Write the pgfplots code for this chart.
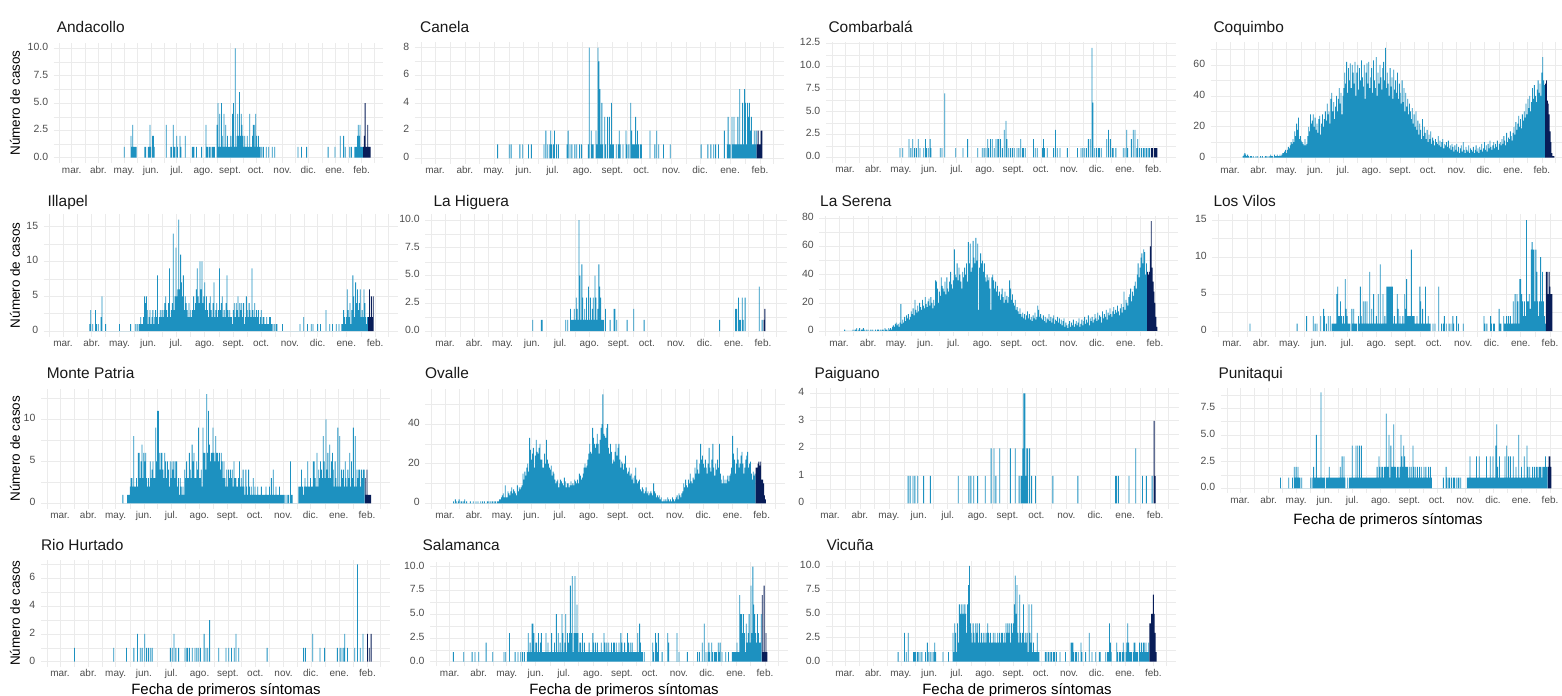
\documentclass[border=0pt]{standalone}
\usepackage{fontspec}
\setmainfont{Liberation Sans}
\usepackage{pgfplots}
\pgfplotsset{compat=1.18}

\definecolor{barblue}{HTML}{1D91C0}
\definecolor{bardark}{HTML}{081D58}
\definecolor{gridgrey}{HTML}{EBEBEB}
\definecolor{ticktext}{HTML}{4D4D4D}

% one facet panel: days counted from 1 March 2020
\pgfplotsset{
  panel/.style={
    scale only axis, anchor=south west,
    xmin=-21, xmax=362,
    xtick={0,31,61,92,122,153,184,214,245,275,306,337},
    xticklabels={mar.,abr.,may.,jun.,jul.,ago.,sept.,oct.,nov.,dic.,ene.,feb.},
    minor xtick={-14.5,15.5,46,76.5,107,137.5,168.5,199,229.5,260,290.5,321.5,351},
    xmajorgrids, xminorgrids, ymajorgrids, yminorgrids,
    major grid style={draw=gridgrey, line width=0.6pt},
    minor grid style={draw=gridgrey, line width=0.3pt},
    axis line style={draw=none},
    major tick length=0pt, minor tick length=0pt,
    typeset ticklabels with strut,
    xticklabel style={text=ticktext, font=\fontsize{10}{11}\selectfont, yshift=1bp},
    yticklabel style={text=ticktext, font=\fontsize{10.5}{12}\selectfont, xshift=-2bp},
    ybar, bar width=0.9, bar shift=0pt,
  },
  main/.style={fill=barblue, draw=none},
  last/.style={fill=bardark, draw=none},
  y10/.style={ymin=-0.5, ymax=10.5, ytick={0,2.5,5,7.5,10},
    yticklabels={0.0,2.5,5.0,7.5,10.0}, minor ytick={1.25,3.75,6.25,8.75}},
}
\tikzset{
  ptitle/.style={anchor=base west, font=\fontsize{15.5}{18}\selectfont, text=black!90},
  ylab/.style={rotate=90, font=\fontsize{13.5}{16}\selectfont},
  xlab/.style={anchor=base, font=\fontsize{15}{18}\selectfont},
}

\begin{document}
\begin{tikzpicture}[x=1bp,y=1bp]
\useasboundingbox (0,0) rectangle (1562,696);

% ---------------- row 1
\begin{axis}[panel, at={(53.6bp,532.8bp)}, width=329.6bp, height=120.3bp, y10]
\addplot[main] coordinates {(61,1)(69,2)(70,1)(71,3)(72,1)(73,1)(74,1)(75,1)(85,1)(86,1)(89,1)(90,1)(91,3)(92,1)(94,2)(95,2)(96,1)(110,3)(115,1)(116,1)(118,3)(119,1)(120,1)(122,2)(123,1)(126,2)(127,1)(132,2)(140,1)(141,1)(142,1)(145,1)(151,1)(156,3)(157,1)(158,1)(160,1)(161,1)(163,1)(164,1)(165,1)(166,1)(169,3)(170,5)(171,1)(172,4)(173,1)(174,5)(175,2)(176,1)(177,4)(178,1)(179,3)(180,1)(181,2)(182,1)(183,1)(184,1)(185,2)(186,1)(187,4)(188,5)(189,1)(190,10)(191,1)(192,2)(193,4)(194,2)(195,6)(196,2)(197,4)(198,3)(199,2)(200,1)(201,2)(202,1)(203,1)(204,2)(205,1)(206,1)(207,4)(208,1)(209,1)(210,2)(211,3)(212,3)(213,1)(214,4)(215,2)(216,1)(217,2)(218,1)(219,1)(221,1)(223,1)(226,1)(229,1)(233,1)(236,1)(263,1)(267,1)(273,1)(298,1)(306,1)(312,2)(316,2)(318,1)(323,1)(325,1)(329,1)(330,1)(331,1)(332,2)(333,3)(334,2)(335,3)(336,1)(337,1)(338,1)};
\addplot[last] coordinates {(339,1)(340,2)(341,5)(342,1)(343,1)(344,3)(345,1)(346,1)(347,1)};
\end{axis}

\begin{axis}[panel, at={(414.7bp,532.2bp)}, width=369.4bp, height=121.7bp,
  ymin=-0.4, ymax=8.4, ytick={0,2,4,6,8}, yticklabels={0,2,4,6,8}, minor ytick={1,3,5,7}]
\addplot[main] coordinates {(65,1)(77,1)(79,1)(88,1)(91,1)(97,1)(100,1)(113,1)(115,2)(117,1)(119,1)(120,2)(121,1)(123,1)(124,2)(126,1)(128,1)(137,1)(138,2)(140,1)(142,1)(145,1)(147,1)(150,1)(152,1)(159,1)(160,8)(162,2)(163,1)(164,1)(167,2)(168,1)(169,8)(170,7)(171,5)(172,1)(173,4)(174,1)(176,3)(177,1)(179,3)(181,3)(182,1)(183,4)(184,1)(185,1)(188,1)(190,1)(191,2)(192,1)(195,1)(198,2)(199,1)(201,1)(203,4)(204,2)(205,1)(206,1)(207,1)(208,3)(209,1)(210,2)(211,1)(213,1)(214,1)(223,2)(228,1)(230,2)(232,1)(237,1)(244,1)(276,1)(283,1)(286,1)(289,1)(291,1)(294,1)(300,2)(303,1)(304,3)(305,1)(306,1)(308,3)(309,1)(310,3)(311,1)(312,1)(313,1)(314,3)(315,1)(316,5)(317,1)(318,1)(319,4)(320,1)(321,5)(322,4)(323,1)(324,4)(325,3)(326,4)(327,2)(328,3)(329,1)(330,1)(331,2)(332,1)(333,2)};
\addplot[last] coordinates {(334,1)(335,2)(336,1)(337,1)(338,2)(339,2)};
\end{axis}

\begin{axis}[panel, at={(825.8bp,533.2bp)}, width=350.4bp, height=120.4bp,
  ymin=-0.6, ymax=12.6, ytick={0,2.5,5,7.5,10,12.5}, yticklabels={0.0,2.5,5.0,7.5,10.0,12.5},
  minor ytick={1.25,3.75,6.25,8.75,11.25}]
\addplot[main] coordinates {(60,1)(63,1)(70,2)(72,1)(74,2)(76,1)(78,1)(80,2)(82,1)(86,1)(88,2)(89,1)(91,1)(93,2)(94,1)(104,1)(106,1)(109,7)(121,1)(129,1)(134,2)(145,1)(150,1)(152,1)(154,1)(156,2)(157,1)(159,2)(161,2)(163,1)(165,2)(167,2)(168,2)(170,2)(172,1)(174,3)(176,4)(177,2)(179,1)(181,1)(183,1)(185,1)(188,1)(190,1)(192,2)(194,1)(195,1)(197,1)(206,2)(208,1)(210,1)(216,1)(217,2)(218,1)(221,1)(228,1)(230,3)(232,1)(235,1)(243,1)(254,1)(258,1)(260,1)(262,1)(264,1)(266,2)(268,2)(270,12)(271,6)(273,1)(275,1)(277,1)(278,1)(280,1)(286,2)(288,3)(290,2)(292,1)(293,1)(296,1)(304,1)(306,1)(308,3)(309,1)(313,2)(315,3)(317,3)(319,1)(320,2)(322,1)(324,1)(326,1)(327,1)(329,1)(330,1)(332,1)(333,1)};
\addplot[last] coordinates {(335,1)(336,1)(338,1)(339,1)(340,1)(341,1)};
\end{axis}

\begin{axis}[panel, at={(1210.6bp,532.8bp)}, width=354.3bp, height=120.7bp,
  ymin=-3.55, ymax=74.55, ytick={0,20,40,60}, yticklabels={0,20,40,60}, minor ytick={10,30,50,70}]
\addplot[main] table[x expr=\coordindex+14, y index=0, header=false, row sep=\\]{
1\\2\\3\\2\\1\\2\\1\\0\\1\\1\\ 0\\1\\0\\0\\1\\0\\1\\0\\0\\1\\ 0\\1\\0\\0\\1\\1\\0\\1\\0\\1\\
2\\1\\1\\0\\2\\1\\1\\2\\1\\1\\ 2\\1\\2\\3\\3\\4\\5\\3\\5\\7\\ 6\\8\\10\\9\\12\\10\\17\\14\\22\\18\\
26\\12\\14\\11\\10\\9\\8\\12\\8\\9\\ 14\\20\\17\\28\\22\\24\\28\\20\\26\\18\\ 22\\16\\25\\27\\15\\22\\28\\20\\25\\30\\
24\\35\\28\\30\\22\\38\\42\\30\\36\\25\\ 33\\40\\30\\38\\45\\35\\42\\28\\40\\45\\ 55\\48\\62\\42\\58\\50\\61\\45\\60\\55\\
48\\62\\40\\55\\60\\44\\58\\50\\63\\52\\ 46\\60\\38\\55\\61\\48\\62\\45\\52\\58\\ 42\\63\\50\\45\\65\\40\\55\\48\\60\\52\\
44\\58\\62\\50\\71\\45\\55\\48\\40\\58\\ 46\\52\\38\\57\\44\\50\\42\\55\\38\\48\\ 42\\35\\50\\36\\45\\30\\42\\33\\38\\28\\
35\\30\\25\\32\\22\\28\\20\\30\\18\\24\\ 15\\22\\18\\12\\25\\14\\20\\16\\12\\18\\ 10\\15\\12\\17\\9\\13\\11\\8\\12\\10\\
9\\14\\8\\11\\7\\10\\12\\6\\9\\8\\ 10\\7\\11\\6\\8\\5\\9\\7\\4\\8\\ 5\\9\\4\\7\\3\\6\\8\\4\\10\\5\\
3\\7\\5\\4\\8\\3\\6\\5\\4\\7\\ 3\\5\\8\\4\\6\\3\\7\\5\\9\\4\\ 6\\10\\5\\8\\4\\9\\6\\11\\7\\5\\
8\\10\\6\\9\\7\\11\\5\\9\\10\\8\\ 12\\9\\14\\11\\8\\16\\10\\13\\12\\17\\ 14\\11\\16\\20\\15\\23\\18\\22\\27\\20\\
25\\19\\28\\24\\30\\26\\35\\28\\38\\32\\ 40\\30\\36\\45\\38\\47\\40\\36\\44\\50\\ 42\\48\\40\\55\\65\\50\\47\\
};
\addplot[last] coordinates {(341,48)(342,50)(343,37)(344,35)(345,28)(346,17)(347,10)(348,3)(349,1)(350,1)};
\end{axis}

% ---------------- row 2
\begin{axis}[panel, at={(43.6bp,359.4bp)}, width=354.6bp, height=122.4bp,
  ymin=-0.8, ymax=16.8, ytick={0,5,10,15}, yticklabels={0,5,10,15}, minor ytick={2.5,7.5,12.5}]
\addplot[main] table[x expr=\coordindex+29, y index=0, header=false, row sep=\\]{
1\\3\\0\\1\\0\\0\\3\\1\\0\\1\\ 0\\0\\2\\5\\0\\0\\0\\1\\0\\0\\ 0\\0\\0\\0\\0\\0\\0\\0\\0\\0\\
0\\0\\1\\0\\0\\0\\0\\0\\0\\0\\ 0\\0\\0\\0\\1\\0\\0\\0\\0\\1\\ 0\\1\\0\\1\\1\\2\\1\\1\\2\\5\\
4\\5\\3\\1\\2\\3\\1\\2\\3\\1\\ 2\\3\\2\\8\\1\\2\\3\\2\\3\\2\\ 3\\4\\5\\3\\2\\4\\9\\2\\3\\4\\
14\\3\\5\\12\\5\\6\\16\\6\\11\\7\\ 5\\8\\3\\5\\4\\3\\2\\4\\2\\3\\ 2\\3\\5\\3\\4\\6\\9\\5\\4\\10\\
6\\10\\4\\5\\7\\3\\5\\3\\2\\4\\ 5\\3\\2\\4\\7\\2\\3\\4\\2\\3\\ 9\\3\\4\\5\\2\\3\\2\\4\\8\\3\\
2\\3\\2\\2\\1\\3\\4\\2\\4\\3\\ 5\\2\\4\\3\\4\\2\\4\\1\\2\\5\\ 3\\2\\4\\3\\2\\9\\3\\2\\4\\2\\
3\\2\\3\\1\\2\\3\\1\\2\\2\\1\\ 1\\2\\1\\1\\2\\2\\1\\1\\0\\1\\ 0\\1\\1\\0\\0\\0\\0\\0\\1\\0\\
0\\0\\0\\0\\0\\0\\0\\0\\0\\0\\ 0\\0\\0\\0\\0\\0\\0\\1\\0\\0\\ 0\\2\\0\\0\\0\\1\\0\\0\\0\\1\\
0\\1\\0\\0\\0\\0\\1\\0\\0\\1\\ 0\\0\\0\\0\\0\\3\\0\\0\\0\\1\\ 0\\0\\1\\0\\0\\0\\1\\0\\0\\1\\
0\\0\\1\\1\\3\\2\\1\\2\\6\\3\\ 2\\4\\1\\3\\8\\5\\2\\7\\4\\6\\ 3\\4\\6\\2\\3\\2\\6\\4\\2\\1\\2\\
};
\addplot[last] coordinates {(330,2)(331,6)(332,2)(333,5)(334,2)(335,5)};
\end{axis}

\begin{axis}[panel, at={(425.2bp,359.4bp)}, width=361.4bp, height=122.1bp, y10]
\addplot[main] coordinates {(93,1)(102,1)(103,1)(128,1)(130,1)(133,2)(134,1)(135,1)(136,1)(137,2)(138,1)(139,3)(140,2)(141,1)(142,10)(143,5)(144,1)(145,6)(146,3)(147,1)(148,2)(149,1)(150,3)(151,1)(152,4)(153,1)(154,3)(155,1)(156,2)(157,3)(158,1)(159,5)(160,3)(161,1)(162,2)(163,6)(164,4)(165,3)(166,1)(167,1)(168,1)(170,2)(175,1)(179,2)(180,2)(182,1)(193,1)(200,2)(211,1)(291,1)(308,2)(309,2)(311,3)(312,1)(313,1)(315,3)(316,1)(318,3)(333,4)(336,1)};
\addplot[last] coordinates {(338,1)(339,2)};
\end{axis}

\begin{axis}[panel, at={(819.3bp,359.5bp)}, width=359.1bp, height=120.9bp,
  ymin=-3.9, ymax=81.9, ytick={0,20,40,60,80}, yticklabels={0,20,40,60,80}, minor ytick={10,30,50,70}]
\addplot[main] table[x expr=\coordindex+6, y index=0, header=false, row sep=\\]{
1\\0\\0\\0\\0\\0\\0\\0\\0\\1\\ 0\\1\\1\\2\\0\\1\\2\\0\\1\\1\\ 2\\1\\0\\1\\0\\1\\0\\0\\1\\0\\
1\\0\\0\\1\\0\\1\\1\\0\\1\\0\\ 1\\1\\0\\2\\1\\1\\0\\2\\1\\2\\ 1\\3\\4\\3\\5\\6\\4\\5\\3\\6\\
19\\5\\8\\6\\10\\7\\11\\9\\12\\8\\ 10\\14\\12\\16\\11\\22\\15\\13\\18\\14\\ 20\\17\\15\\22\\18\\16\\24\\19\\17\\21\\
23\\18\\24\\20\\16\\22\\18\\
36\\35\\30\\20\\28\\25\\38\\32\\30\\28\\ 35\\26\\38\\30\\28\\35\\42\\33\\30\\36\\ 58\\40\\38\\48\\36\\45\\40\\35\\30\\42\\
38\\45\\40\\48\\35\\63\\48\\62\\42\\45\\ 64\\52\\48\\66\\50\\62\\15\\45\\55\\48\\ 50\\42\\48\\38\\35\\40\\36\\38\\30\\15\\
38\\40\\36\\30\\35\\28\\32\\25\\28\\22\\ 26\\30\\24\\20\\28\\22\\25\\20\\24\\36\\ 30\\22\\26\\20\\18\\22\\15\\17\\14\\12\\
16\\12\\10\\13\\9\\12\\8\\11\\14\\9\\ 12\\8\\10\\7\\11\\9\\13\\8\\10\\18\\ 15\\10\\12\\9\\8\\11\\7\\10\\6\\9\\
8\\12\\7\\10\\6\\9\\11\\5\\8\\7\\ 10\\6\\9\\5\\8\\4\\7\\9\\3\\6\\ 4\\2\\5\\7\\3\\6\\4\\8\\3\\5\\
7\\4\\6\\9\\3\\5\\8\\4\\7\\10\\ 5\\8\\6\\11\\4\\9\\7\\10\\6\\8\\ 12\\9\\7\\13\\8\\11\\10\\6\\14\\9\\
12\\10\\15\\8\\13\\11\\16\\12\\10\\14\\ 17\\12\\15\\13\\18\\14\\11\\16\\19\\13\\ 17\\28\\15\\22\\20\\18\\24\\26\\30\\21\\
28\\25\\32\\35\\30\\40\\48\\38\\45\\52\\ 55\\48\\58\\56\\40\\48\\
};
\addplot[last] coordinates {(329,42)(330,40)(331,42)(332,60)(333,78)(334,45)(335,35)(336,28)(337,20)(338,10)(339,3)};
\end{axis}

\begin{axis}[panel, at={(1212.2bp,359.4bp)}, width=361.4bp, height=122.1bp,
  ymin=-0.75, ymax=15.75, ytick={0,5,10,15}, yticklabels={0,5,10,15}, minor ytick={2.5,7.5,12.5}]
\addplot[main] coordinates {(19,1)(69,1)(79,2)(86,2)(88,1)(90,1)(94,2)(97,3)(98,2)(100,1)(102,2)(104,2)(106,1)(107,1)(108,1)(109,1)(110,1)(111,5)(112,6)(113,2)(114,2)(115,4)(116,2)(117,1)(118,2)(119,1)(120,7)(121,3)(122,2)(123,1)(124,1)(125,1)(127,3)(128,1)(129,3)(130,1)(131,1)(132,1)(134,2)(135,1)(136,6)(137,2)(138,1)(139,4)(140,1)(141,4)(142,1)(143,4)(144,1)(145,1)(146,8)(147,1)(148,3)(149,1)(150,5)(151,1)(152,1)(153,2)(154,1)(155,5)(156,1)(157,9)(158,1)(159,1)(160,5)(161,1)(162,2)(163,1)(164,6)(165,6)(166,6)(167,6)(168,6)(169,6)(170,6)(171,1)(172,2)(173,1)(174,1)(175,5)(176,3)(177,1)(178,2)(179,1)(180,1)(181,2)(182,1)(183,5)(184,3)(185,7)(186,2)(187,2)(188,2)(189,2)(190,11)(191,2)(192,2)(193,2)(194,1)(195,1)(196,2)(197,1)(198,1)(199,6)(200,4)(201,1)(202,3)(203,1)(204,1)(205,6)(206,1)(207,1)(208,2)(209,1)(210,1)(213,1)(215,1)(219,6)(222,1)(224,1)(225,2)(227,1)(230,1)(232,1)(234,2)(235,1)(238,2)(240,1)(245,1)(267,2)(268,1)(270,1)(274,2)(275,1)(277,1)(278,1)(283,3)(284,1)(285,1)(288,2)(289,1)(290,1)(291,2)(292,1)(293,2)(294,1)(295,2)(296,1)(297,1)(298,4)(299,1)(300,5)(301,1)(302,5)(303,4)(304,1)(305,7)(306,7)(307,5)(308,4)(309,2)(310,4)(311,2)(312,15)(313,4)(314,4)(315,5)(316,3)(317,11)(318,12)(319,11)(320,11)(321,4)(322,11)(323,8)(324,4)(325,2)(326,4)(327,10)(328,4)(329,8)(330,4)(331,2)(332,1)};
\addplot[last] coordinates {(333,8)(334,8)(335,5)(336,8)(337,6)(338,5)(339,5)};
\end{axis}

% ---------------- row 3
\begin{axis}[panel, at={(40.9bp,187.2bp)}, width=348.9bp, height=120.1bp,
  ymin=-0.65, ymax=13.65, ytick={0,5,10}, yticklabels={0,5,10}, minor ytick={2.5,7.5,12.5}]
\addplot[main] table[x expr=\coordindex+69, y index=0, header=false, row sep=\\]{
1\\0\\0\\0\\0\\1\\1\\1\\2\\3\\ 3\\2\\8\\2\\2\\3\\2\\6\\6\\3\\ 5\\7\\3\\6\\5\\6\\3\\2\\3\\2\\
5\\3\\4\\5\\3\\3\\9\\5\\11\\11\\ 6\\4\\6\\6\\4\\3\\6\\5\\3\\5\\ 4\\2\\5\\3\\5\\4\\5\\3\\5\\5\\
2\\3\\1\\3\\2\\1\\2\\1\\4\\3\\ 5\\3\\3\\6\\4\\3\\7\\5\\6\\3\\ 3\\5\\4\\9\\3\\3\\4\\2\\9\\6\\
6\\4\\13\\6\\11\\7\\5\\6\\6\\9\\ 6\\5\\8\\6\\6\\5\\6\\4\\6\\5\\ 3\\5\\3\\2\\4\\2\\4\\3\\4\\3\\
4\\2\\5\\3\\3\\2\\2\\3\\5\\2\\ 3\\2\\4\\2\\1\\4\\2\\1\\4\\2\\ 1\\2\\1\\3\\1\\2\\1\\1\\2\\1\\
1\\1\\2\\1\\1\\1\\1\\2\\1\\1\\ 1\\2\\1\\3\\1\\4\\1\\1\\2\\1\\ 1\\1\\2\\1\\1\\1\\1\\1\\0\\1\\
0\\1\\1\\0\\5\\1\\1\\0\\0\\0\\ 0\\0\\0\\2\\2\\2\\4\\2\\1\\2\\ 3\\2\\2\\5\\2\\2\\3\\2\\2\\5\\
5\\3\\2\\6\\2\\4\\3\\5\\4\\3\\ 8\\5\\3\\10\\4\\6\\3\\7\\3\\5\\ 6\\4\\2\\5\\3\\2\\9\\2\\8\\2\\
4\\3\\4\\2\\5\\3\\2\\4\\3\\6\\ 2\\5\\3\\9\\2\\8\\2\\4\\3\\4\\ 4\\2\\4\\3\\4\\4\\
};
\addplot[last] coordinates {(335,3)(336,1)(337,4)(338,1)(339,1)(340,1)(341,1)};
\end{axis}

\begin{axis}[panel, at={(425.3bp,187.25bp)}, width=359.9bp, height=119.9bp,
  ymin=-2.75, ymax=57.75, ytick={0,20,40}, yticklabels={0,20,40}, minor ytick={10,30,50}]
\addplot[main] table[x expr=\coordindex+9, y index=0, header=false, row sep=\\]{
1\\0\\2\\1\\0\\1\\2\\0\\1\\1\\ 0\\1\\2\\0\\1\\0\\0\\0\\1\\0\\ 0\\1\\0\\0\\1\\0\\1\\0\\0\\1\\
0\\1\\0\\1\\0\\0\\1\\1\\0\\1\\ 0\\1\\1\\0\\1\\1\\0\\1\\1\\2\\ 2\\3\\4\\5\\3\\9\\3\\3\\6\\5\\
4\\6\\8\\5\\7\\6\\5\\4\\9\\6\\ 8\\7\\8\\9\\15\\12\\16\\14\\18\\20\\ 16\\33\\27\\22\\25\\28\\18\\24\\32\\26\\
25\\28\\30\\22\\22\\18\\18\\25\\20\\32\\ 22\\20\\18\\17\\19\\14\\16\\15\\12\\10\\ 11\\12\\8\\10\\12\\11\\10\\9\\13\\11\\
8\\10\\10\\8\\9\\11\\9\\10\\9\\12\\ 11\\10\\12\\10\\15\\14\\12\\13\\15\\18\\ 20\\18\\19\\22\\25\\30\\26\\25\\38\\33\\
30\\28\\30\\35\\30\\25\\32\\38\\40\\55\\ 35\\34\\33\\38\\40\\28\\25\\30\\26\\20\\ 22\\21\\26\\30\\24\\28\\30\\22\\18\\21\\
20\\17\\20\\24\\18\\15\\16\\18\\14\\15\\ 12\\13\\10\\14\\18\\12\\10\\11\\12\\7\\ 6\\8\\7\\5\\6\\8\\5\\6\\4\\5\\
6\\5\\4\\10\\6\\5\\3\\4\\3\\4\\ 2\\3\\1\\1\\2\\1\\2\\1\\3\\2\\ 1\\2\\1\\3\\2\\1\\2\\3\\4\\2\\
5\\4\\3\\5\\6\\10\\8\\12\\9\\8\\ 12\\10\\15\\11\\10\\13\\12\\18\\15\\22\\ 17\\15\\20\\30\\22\\24\\20\\18\\22\\18\\
15\\20\\28\\18\\16\\22\\30\\18\\14\\20\\ 17\\22\\18\\30\\15\\12\\10\\14\\10\\12\\ 10\\12\\14\\11\\14\\15\\18\\34\\25\\22\\
15\\20\\28\\22\\18\\20\\24\\26\\20\\15\\ 18\\22\\24\\26\\18\\20\\21\\15\\12\\16\\ 14\\15\\
};
\addplot[last] coordinates {(331,18)(332,18)(333,20)(334,21)(335,19)(336,21)(337,12)(338,12)(339,10)(340,4)(341,2)};
\end{axis}

\begin{axis}[panel, at={(809.75bp,187.2bp)}, width=369.4bp, height=121bp,
  ymin=-0.2, ymax=4.2, ytick={0,1,2,3,4}, yticklabels={0,1,2,3,4}, minor ytick={0.5,1.5,2.5,3.5}]
\addplot[main] coordinates {(81,1)(83,1)(86,1)(88,1)(91,1)(97,1)(104,1)(133,1)(144,1)(146,1)(149,1)(153,1)(161,1)(167,2)(170,2)(172,1)(176,2)(187,2)(192,2)(196,1)(198,1)(199,1)(200,2)(201,4)(202,4)(203,1)(204,2)(205,2)(207,2)(209,1)(213,1)(231,1)(257,1)(296,1)(297,1)(299,1)(310,1)(317,2)(324,1)(328,1)(334,1)};
\addplot[last] coordinates {(336,3)(337,1)};
\end{axis}

\begin{axis}[panel, at={(1220.7bp,202.9bp)}, width=352.3bp, height=105.6bp,
  ymin=-0.45, ymax=9.45, ytick={0,2.5,5,7.5}, yticklabels={0.0,2.5,5.0,7.5}, minor ytick={1.25,3.75,6.25,8.75}]
\addplot[main] table[x expr=\coordindex+44, y index=0, header=false, row sep=\\]{
1\\0\\0\\0\\0\\0\\0\\0\\0\\1\\ 0\\0\\0\\1\\0\\2\\1\\2\\1\\2\\ 1\\1\\0\\1\\0\\0\\0\\0\\0\\0\\
0\\0\\0\\1\\0\\1\\2\\1\\1\\5\\ 1\\1\\1\\1\\9\\1\\1\\1\\1\\0\\ 1\\1\\1\\2\\1\\1\\1\\1\\1\\1\\
1\\1\\1\\1\\1\\2\\1\\3\\1\\3\\ 1\\0\\0\\1\\0\\1\\1\\1\\4\\1\\ 1\\1\\4\\1\\4\\1\\4\\1\\4\\1\\
1\\1\\1\\1\\1\\1\\1\\1\\1\\1\\ 1\\1\\1\\1\\1\\2\\1\\3\\2\\1\\ 2\\2\\1\\2\\2\\7\\2\\2\\5\\1\\
4\\2\\2\\6\\2\\2\\1\\2\\2\\1\\ 2\\5\\3\\2\\4\\3\\2\\2\\2\\1\\ 2\\1\\2\\1\\4\\2\\1\\2\\1\\2\\
1\\2\\1\\2\\1\\1\\2\\1\\2\\1\\ 1\\2\\1\\2\\1\\0\\0\\0\\0\\0\\ 0\\0\\0\\0\\0\\0\\0\\1\\0\\0\\
2\\1\\0\\1\\1\\0\\1\\0\\1\\1\\ 0\\1\\0\\1\\1\\0\\1\\0\\0\\0\\ 0\\0\\0\\1\\1\\1\\3\\1\\1\\1\\
1\\1\\1\\3\\1\\1\\3\\1\\1\\1\\ 1\\1\\1\\1\\3\\1\\1\\1\\3\\1\\ 1\\3\\1\\1\\4\\6\\2\\1\\3\\1\\
1\\1\\1\\1\\3\\1\\4\\1\\3\\1\\ 3\\1\\1\\3\\1\\1\\2\\1\\1\\5\\ 1\\1\\2\\1\\1\\3\\1\\1\\4\\2\\
1\\2\\1\\1\\2\\1\\2\\1\\2\\2\\ 1\\2\\2\\2\\1\\2\\2\\2\\3\\2\\2\\
};
\addplot[last] coordinates {(335,2)(336,3)(337,3)(338,2)};
\end{axis}

% ---------------- row 4
\begin{axis}[panel, at={(40.8bp,29.4bp)}, width=349.5bp, height=107bp,
  ymin=-0.35, ymax=7.35, ytick={0,2,4,6}, yticklabels={0,2,4,6}, minor ytick={1,3,5,7}]
\addplot[main] coordinates {(16,1)(59,1)(73,1)(81,1)(85,2)(88,1)(90,1)(93,2)(95,1)(97,1)(99,1)(101,1)(121,1)(123,1)(125,2)(127,1)(130,1)(137,1)(139,1)(140,1)(142,1)(145,1)(148,1)(150,1)(152,1)(154,1)(158,2)(160,1)(162,1)(164,3)(174,1)(182,1)(185,1)(188,1)(191,1)(193,2)(196,1)(227,1)(267,1)(269,1)(277,2)(285,1)(290,1)(304,1)(307,1)(309,1)(311,1)(312,2)(315,1)(323,1)(326,7)(329,1)(332,2)};
\addplot[last] coordinates {(337,2)(339,1)(341,2)};
\end{axis}

\begin{axis}[panel, at={(430bp,29.55bp)}, width=358.4bp, height=104.5bp, y10]
\addplot[main] table[x expr=\coordindex+4, y index=0, header=false, row sep=\\]{
1\\0\\0\\0\\0\\0\\0\\0\\0\\0\\ 0\\1\\0\\0\\0\\0\\0\\0\\0\\0\\ 1\\0\\0\\1\\0\\0\\0\\1\\0\\0\\
0\\0\\0\\0\\0\\2\\0\\0\\0\\0\\ 0\\0\\1\\0\\0\\0\\0\\0\\0\\0\\ 0\\0\\0\\0\\1\\0\\1\\0\\0\\0\\
3\\0\\0\\0\\0\\0\\1\\0\\0\\1\\ 0\\0\\1\\0\\1\\0\\1\\0\\0\\1\\ 3\\1\\2\\1\\4\\4\\3\\1\\2\\2\\
1\\3\\1\\2\\3\\1\\1\\1\\1\\3\\ 1\\2\\1\\1\\1\\3\\1\\1\\2\\1\\ 5\\1\\3\\1\\2\\1\\5\\3\\1\\2\\
5\\1\\3\\2\\3\\8\\3\\9\\1\\3\\ 9\\3\\6\\3\\1\\2\\2\\1\\3\\1\\ 2\\1\\1\\1\\1\\2\\1\\1\\1\\3\\
2\\1\\2\\1\\2\\1\\1\\1\\2\\1\\ 1\\3\\2\\1\\2\\1\\2\\1\\1\\2\\ 1\\2\\2\\1\\2\\1\\1\\2\\1\\3\\
2\\1\\1\\2\\1\\1\\3\\2\\1\\2\\ 1\\2\\1\\1\\1\\1\\1\\3\\1\\4\\ 2\\1\\1\\0\\1\\0\\0\\0\\0\\0\\
0\\0\\0\\2\\1\\0\\3\\2\\1\\3\\ 0\\0\\0\\1\\0\\0\\0\\0\\0\\3\\ 2\\0\\0\\0\\0\\0\\0\\0\\0\\3\\
0\\1\\0\\0\\0\\0\\0\\0\\0\\0\\ 1\\0\\0\\0\\0\\0\\0\\0\\0\\0\\ 0\\1\\0\\1\\0\\0\\2\\0\\4\\0\\
1\\0\\1\\2\\1\\0\\2\\1\\0\\1\\ 1\\1\\0\\2\\1\\2\\0\\1\\0\\0\\ 0\\1\\0\\0\\1\\0\\0\\0\\1\\1\\
1\\1\\1\\2\\1\\1\\7\\5\\5\\3\\ 5\\3\\1\\4\\2\\3\\5\\2\\8\\3\\ 10\\6\\5\\3\\2\\5\\3\\2\\2\\5\\
};
\addplot[last] coordinates {(334,7)(335,1)(336,8)(337,1)(338,3)(339,1)};
\end{axis}

\begin{axis}[panel, at={(825.8bp,29.5bp)}, width=350.4bp, height=105.3bp, y10]
\addplot[main] table[x expr=\coordindex+58, y index=0, header=false, row sep=\\]{
1\\0\\0\\0\\0\\0\\0\\3\\0\\1\\ 0\\3\\0\\0\\0\\0\\0\\1\\1\\1\\ 0\\1\\1\\0\\1\\0\\1\\0\\0\\0\\
1\\0\\2\\1\\0\\1\\0\\1\\0\\1\\ 2\\1\\0\\0\\0\\0\\0\\0\\0\\1\\ 0\\0\\0\\0\\0\\1\\0\\0\\0\\0\\
3\\1\\4\\3\\1\\4\\2\\6\\5\\6\\ 5\\6\\5\\6\\5\\3\\6\\8\\10\\4\\ 3\\2\\4\\3\\2\\4\\3\\4\\2\\4\\
2\\3\\2\\3\\2\\3\\2\\3\\4\\3\\ 2\\3\\2\\2\\3\\2\\3\\2\\2\\3\\ 2\\3\\2\\3\\3\\2\\3\\2\\4\\3\\
4\\3\\4\\2\\4\\3\\4\\6\\9\\5\\ 8\\3\\2\\7\\3\\2\\3\\6\\2\\3\\ 2\\3\\1\\6\\3\\2\\6\\1\\2\\1\\
1\\1\\3\\1\\1\\0\\0\\0\\0\\0\\ 0\\1\\1\\0\\1\\1\\0\\1\\1\\0\\ 1\\1\\0\\1\\0\\0\\0\\1\\0\\0\\
0\\0\\0\\1\\0\\0\\0\\0\\0\\2\\ 2\\2\\1\\0\\1\\1\\0\\1\\0\\0\\ 2\\1\\0\\0\\0\\1\\0\\0\\0\\3\\
0\\0\\1\\0\\0\\0\\1\\0\\0\\0\\ 1\\1\\0\\0\\0\\0\\0\\1\\0\\1\\ 1\\4\\2\\1\\0\\0\\0\\0\\0\\2\\
1\\0\\1\\1\\0\\1\\2\\1\\0\\1\\ 2\\4\\2\\1\\1\\1\\0\\1\\2\\2\\ 1\\1\\1\\0\\2\\1\\2\\1\\2\\2\\
1\\2\\1\\1\\2\\
};
\addplot[last] coordinates {(333,4)(334,4)(335,5)(336,5)(337,7)(338,5)(339,3)(340,1)};
\end{axis}

% ---------------- facet titles
\node[ptitle] at (53.3,663.3) {Andacollo};
\node[ptitle] at (416.7,663.3) {Canela};
\node[ptitle] at (825,663.3) {Combarbalá};
\node[ptitle] at (1210,663.3) {Coquimbo};
\node[ptitle] at (44,489.3) {Illapel};
\node[ptitle] at (430,489.3) {La Higuera};
\node[ptitle] at (816.7,489.3) {La Serena};
\node[ptitle] at (1210,489.3) {Los Vilos};
\node[ptitle] at (43.3,317.3) {Monte Patria};
\node[ptitle] at (421.7,317.3) {Ovalle};
\node[ptitle] at (811,317.3) {Paiguano};
\node[ptitle] at (1215,317.3) {Punitaqui};
\node[ptitle] at (37.5,145.3) {Rio Hurtado};
\node[ptitle] at (419,145.3) {Salamanca};
\node[ptitle] at (823,145.3) {Vicuña};

% ---------------- axis titles
\node[ylab] at (15,593) {Número de casos};
\node[ylab] at (15,420.6) {Número de casos};
\node[ylab] at (15,247.3) {Número de casos};
\node[ylab] at (15,82.9) {Número de casos};
\node[xlab] at (226,1.5) {Fecha de primeros síntomas};
\node[xlab] at (624,1.5) {Fecha de primeros síntomas};
\node[xlab] at (1017,1.5) {Fecha de primeros síntomas};
\node[xlab] at (1388,171) {Fecha de primeros síntomas};
\end{tikzpicture}
\end{document}
